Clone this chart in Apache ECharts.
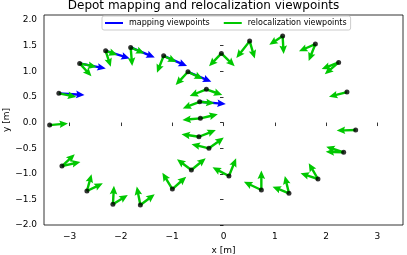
<!DOCTYPE html>
<html><head><meta charset="utf-8">
<script src="https://cdn.jsdelivr.net/npm/echarts@6/dist/echarts.min.js"></script>
<style>html,body{margin:0;padding:0;background:#fff}#c{width:407px;height:255px}</style>
</head><body><div id="c"></div>
<script>
// viewpoint positions [m]
const pointX = [-3.39,-3.21,-2.805,-2.298,-1.81,-1.167,-0.693,-0.042,0.51,1.153,1.791,2.245,2.407,2.577,2.343,1.842,1.276,0.738,0.106,-0.284,-0.479,-0.451,-0.465,-0.334,-0.627,-0.997,-1.621,-2.156,-2.663,-3.15];
const pointY = [-0.05,0.57,1.155,1.401,1.467,1.303,0.991,1.35,1.59,1.688,1.532,1.175,0.595,-0.146,-0.581,-1.102,-1.381,-1.317,-1.044,-0.503,-0.277,0.082,0.406,0.648,-0.927,-1.298,-1.61,-1.596,-1.337,-0.849];
// mapping viewpoint directions: [point index, dx, dy]
const mappingArrows = [
  [1,0.50,-0.03],[2,0.51,-0.10],[3,0.47,-0.15],[4,0.47,-0.195],[5,0.456,-0.20],[6,0.456,-0.195],[22,0.51,-0.045]
];
// relocalization viewpoint directions: [point index, dx, dy]
const relocArrows = [
  [0,0.357,0.033],
  [1,0.34,-0.07],
  [2,0.23,-0.25],[2,0.33,-0.07],
  [3,0.10,-0.31],[3,0.23,-0.08],
  [4,0.03,-0.365],[4,0.27,-0.12],
  [5,-0.13,-0.33],[5,0.25,-0.12],
  [6,-0.24,-0.26],[6,0.29,-0.14],
  [7,-0.24,-0.25],[7,0.26,-0.25],
  [8,-0.26,-0.33],[8,0.10,-0.34],
  [9,0.02,-0.35],[9,-0.26,-0.17],
  [10,-0.32,-0.14],[10,-0.13,-0.33],
  [11,-0.33,-0.13],[11,-0.27,-0.23],
  [12,-0.35,-0.09],
  [13,-0.37,-0.01],
  [14,-0.35,0.01],[14,-0.34,0.11],
  [15,-0.34,0.11],[15,-0.18,0.31],
  [16,-0.32,0.13],[16,-0.08,0.34],
  [17,0.0,0.38],[17,-0.34,0.16],
  [18,-0.32,0.17],[18,0.14,0.345],
  [19,-0.34,0.08],[19,0.29,0.21],
  [20,-0.34,0.05],[20,0.33,0.13],
  [21,-0.35,-0.03],[21,0.34,0.08],
  [22,-0.33,-0.13],[22,0.29,-0.03],
  [23,-0.325,-0.13],[23,0.31,-0.11],
  [24,-0.28,0.21],[24,0.28,0.23],
  [25,-0.195,0.32],[25,0.27,0.24],
  [26,-0.07,0.36],[26,0.28,0.21],
  [27,0.02,0.36],[27,0.29,0.18],
  [28,0.09,0.33],[28,0.31,0.15],
  [29,0.25,0.23],[29,0.36,0.08]
];
const xTicks = [-3,-2,-1,0,1,2,3];
const yTicks = [-2,-1.5,-1,-0.5,0,0.5,1,1.5,2];

const FONT = 'DejaVu Sans';
const BLUE = '#0000ff', GREEN = '#00c800';
const minus = s => String(s).replace('-', '\u2212');

function toData(list){
  return list.map(a => [pointX[a[0]], pointY[a[0]], a[1], a[2]]);
}
function arrow(color){
  return function(params, api){
    const x = api.value(0), y = api.value(1), dx = api.value(2), dy = api.value(3);
    const p0 = api.coord([x, y]), p1 = api.coord([x + dx, y + dy]);
    const vx = p1[0]-p0[0], vy = p1[1]-p0[1];
    const L = Math.hypot(vx, vy);
    const ux = vx/L, uy = vy/L, nx = -uy, ny = ux;
    const w = 1.2, hw = 3.8, hl = 8.5, hal = 7.5;
    const P = (a,b) => [p0[0]+ux*a+nx*b, p0[1]+uy*a+ny*b];
    const pts = [P(0,w),P(L-hal,w),P(L-hl,hw),P(L,0),P(L-hl,-hw),P(L-hal,-w),P(0,-w)];
    return {type:'polygon', shape:{points:pts}, style:{fill:color}};
  };
}

const chart = echarts.init(document.getElementById('c'), null, {renderer:'canvas'});
chart.setOption({
  animation:false,
  backgroundColor:'#fff',
  title:{text:'Depot mapping and relocalization viewpoints', left:'center', top:0, padding:0,
    textStyle:{fontFamily:FONT, fontSize:12, fontWeight:'normal', color:'#000'}},
  legend:{
    data:['mapping viewpoints','relocalization viewpoints'],
    left:102, top:16, padding:[3,4,3,3], itemGap:14, itemWidth:18, itemHeight:2, icon:'rect',
    borderColor:'#cccccc', borderWidth:1, borderRadius:2, backgroundColor:'#fff',
    textStyle:{fontFamily:FONT, fontSize:8, color:'#000', padding:[0,0,0,1]}
  },
  grid:{left:44, right:4, top:15, bottom:30, show:true, borderColor:'#000', borderWidth:0.8,
    backgroundColor:'transparent', containLabel:false, outerBoundsMode:'none'},
  xAxis:{type:'value', min:-3.5, max:3.5, name:'x [m]', nameLocation:'middle', nameGap:21,
    nameMoveOverlap:false,
    nameTextStyle:{fontFamily:FONT, fontSize:9, color:'#000'},
    axisLine:{show:false}, splitLine:{show:false},
    axisTick:{show:true, length:3.5, lineStyle:{color:'#000', width:0.8}, customValues:xTicks},
    axisLabel:{fontFamily:FONT, fontSize:9, color:'#000', margin:7, customValues:xTicks, formatter:v=>minus(v)}},
  yAxis:{type:'value', min:-2, max:2.1, name:'y [m]', nameLocation:'middle', nameGap:33,
    nameMoveOverlap:false,
    nameTextStyle:{fontFamily:FONT, fontSize:9, color:'#000'},
    axisLine:{show:false}, splitLine:{show:false},
    axisTick:{show:true, length:3.5, lineStyle:{color:'#000', width:0.8}, customValues:yTicks},
    axisLabel:{fontFamily:FONT, fontSize:9, color:'#000', margin:7, customValues:yTicks, formatter:v=>minus(Number(v).toFixed(1))}},
  series:[
    {type:'custom', name:'mapping viewpoints', renderItem:arrow(BLUE), itemStyle:{color:BLUE},
      encode:{x:0,y:1}, data:toData(mappingArrows), z:2},
    {type:'custom', name:'relocalization viewpoints', renderItem:arrow(GREEN), itemStyle:{color:GREEN},
      encode:{x:0,y:1}, data:toData(relocArrows), z:3},
    {type:'scatter', name:'points', data:pointX.map((x,i)=>[x,pointY[i]]), symbolSize:5,
      itemStyle:{color:'#000'}, z:4}
  ]
});
</script></body></html>
